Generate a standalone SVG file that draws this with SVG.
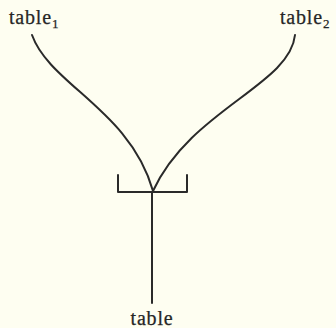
<svg xmlns="http://www.w3.org/2000/svg" width="336" height="328" viewBox="0 0 336 328">
  <style>
    .lbl { font-family: "Liberation Serif", "Times New Roman", serif; font-size: 20px; letter-spacing: 0.8px; fill: #262626; stroke: #262626; stroke-width: 0.25; }
    .sub { font-size: 13px; letter-spacing: 0; }
    .ln { fill: none; stroke: #2a2a2a; stroke-width: 2; stroke-linecap: round; stroke-linejoin: round; }
  </style>
  <rect width="336" height="328" fill="#fefef1"/>
  <g id="connectors">
    <path class="ln" d="M32,35 C50,85 130,110 153,191"/>
    <path class="ln" d="M295,35 C290,85 190,110 153,191"/>
    <path class="ln" d="M152,192 L152,303"/>
  </g>
  <g id="merge">
    <path class="ln" d="M118,175 L118,192 L187,192 L187,175"/>
  </g>
  <g id="table1">
    <text class="lbl" x="9" y="24">table<tspan class="sub" dy="4">1</tspan></text>
  </g>
  <g id="table2">
    <text class="lbl" x="280" y="24">table<tspan class="sub" dy="4">2</tspan></text>
  </g>
  <g id="table">
    <text class="lbl" x="152" y="325" text-anchor="middle">table</text>
  </g>
</svg>
